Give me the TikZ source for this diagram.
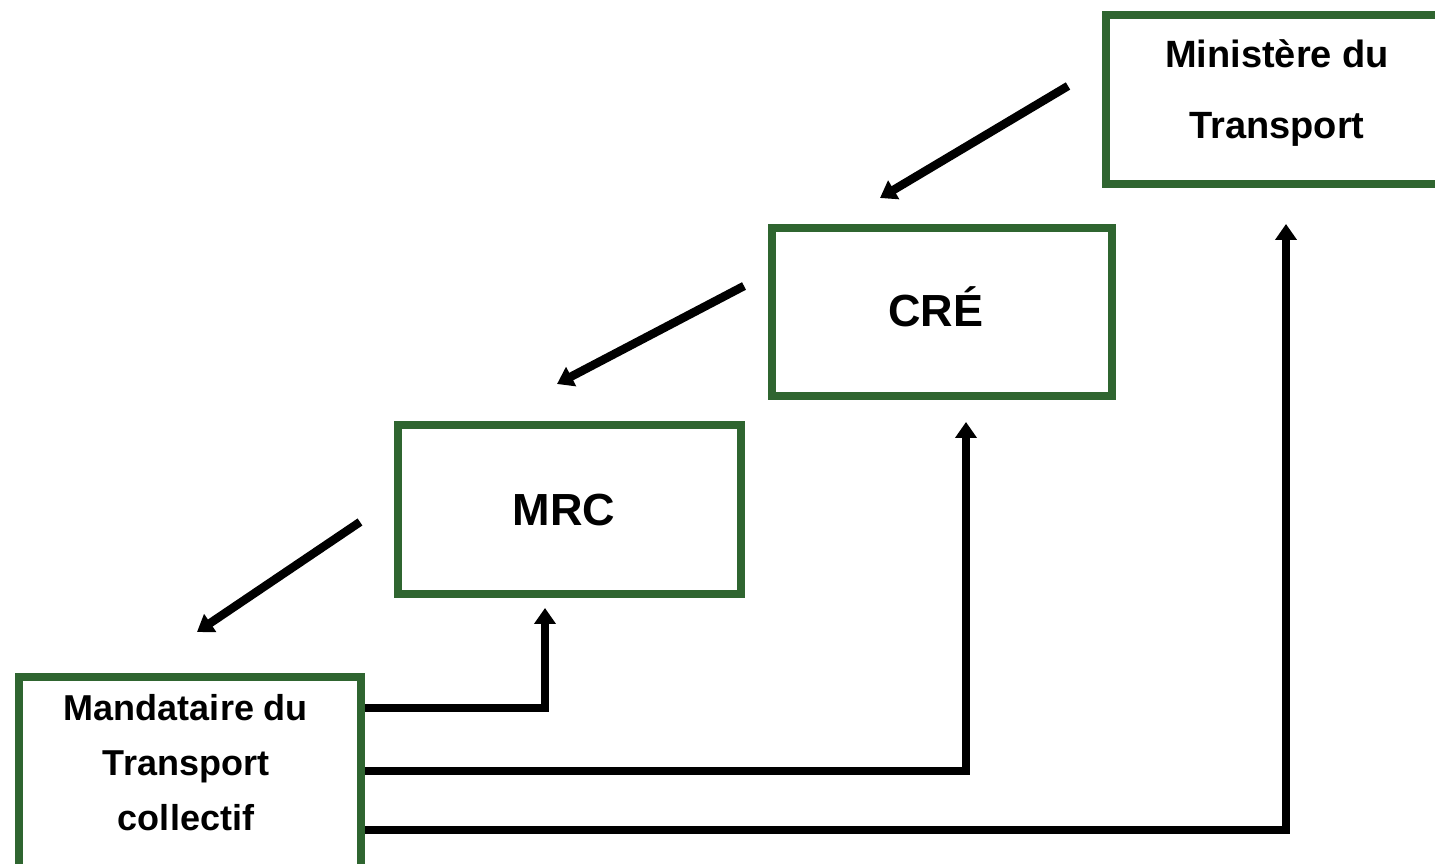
\documentclass[tikz,border=0pt]{standalone}
\usepackage{fontspec}
\setmainfont{Liberation Sans}
\usetikzlibrary{arrows.meta}
\definecolor{boxgreen}{RGB}{47,101,48}
\begin{document}
\begin{tikzpicture}[x=1pt,y=1pt,
  box/.style={draw=boxgreen,line width=8pt,rectangle,inner sep=0pt},
  lbl/.style={font=\bfseries,align=center,inner sep=0pt},
  conn/.style={line width=8.5pt,-{Triangle[length=16pt,width=21pt]}}]
\clip (0,0) rectangle (1435,864);
\useasboundingbox (0,0) rectangle (1435,864);
% boxes
\node[box,minimum width=342pt,minimum height=169pt] (min) at (1277,764) {};
\node[lbl,font=\fontsize{38}{71}\selectfont\bfseries] (mint) at (1277,771) {Ministère du\\Transport};
\node[box,minimum width=340pt,minimum height=168pt] (cre) at (942,552) {};
\node[lbl,font=\fontsize{45}{55}\selectfont\bfseries] (cret) at (936,557) {CRÉ};
\node[box,minimum width=343pt,minimum height=169pt] (mrc) at (569.5,354.5) {};
\node[lbl,font=\fontsize{45}{55}\selectfont\bfseries] (mrct) at (564,354) {MRC};
\node[box,minimum width=342pt,minimum height=240pt,anchor=north west] (mand) at (15,191) {};
\node[lbl,font=\fontsize{36}{55}\selectfont\bfseries] (mandt) at (186,101) {Mandataire du\\Transport\\collectif};
% diagonal arrows
\coordinate (d1s) at (1068,778); \coordinate (d1e) at (880,666);
\coordinate (d2s) at (744,578);  \coordinate (d2e) at (557,480);
\coordinate (d3s) at (360,342);  \coordinate (d3e) at (197,232);
\draw[conn] (d1s) -- (d1e);
\draw[conn] (d2s) -- (d2e);
\draw[conn] (d3s) -- (d3e);
% elbow arrows
\coordinate (e1s) at (357,156); \coordinate (e1e) at (545,256);
\coordinate (e2s) at (357,93);  \coordinate (e2e) at (966,442);
\coordinate (e3s) at (357,34);  \coordinate (e3e) at (1286,640);
\draw[conn] (mand.east |- e1s) -| (e1e);
\draw[conn] (mand.east |- e2s) -| (e2e);
\draw[conn] (mand.east |- e3s) -| (e3e);
\end{tikzpicture}
\end{document}
